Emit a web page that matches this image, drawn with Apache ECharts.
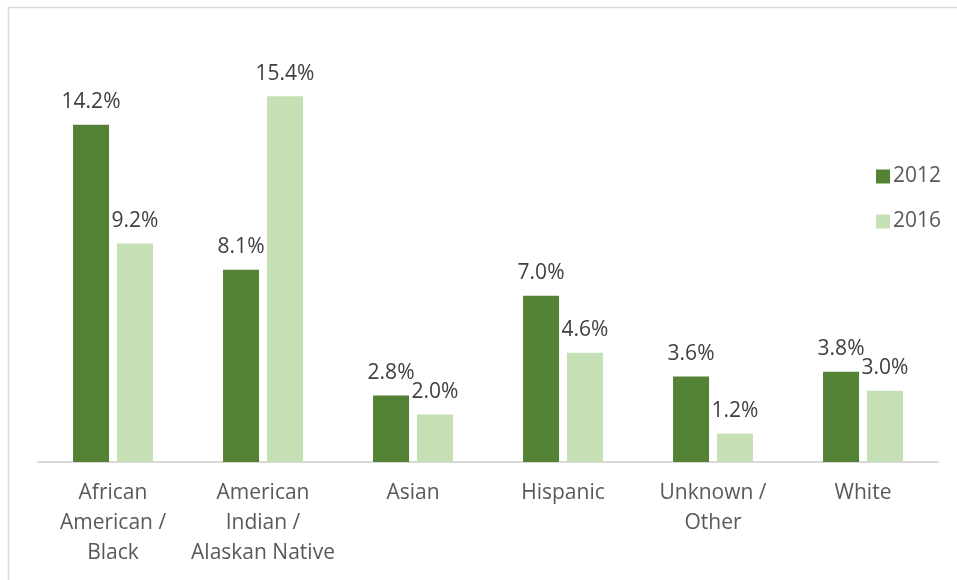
<!DOCTYPE html>
<html>
<head>
<meta charset="utf-8">
<style>
  html, body { margin: 0; padding: 0; background: #ffffff; }
  #chart { width: 957px; height: 580px; }
</style>
<script src="https://cdn.jsdelivr.net/npm/echarts@6/dist/echarts.min.js"></script>
</head>
<body>
<div id="chart"></div>
<script>
// Groups along the x axis
const categories = [
  'African\nAmerican /\nBlack',
  'American\nIndian /\nAlaskan Native',
  'Asian',
  'Hispanic',
  'Unknown /\nOther',
  'White'
];
// Percentages per group, by year
const values2012 = [14.2, 8.1, 2.8, 7.0, 3.6, 3.8];
const values2016 = [9.2, 15.4, 2.0, 4.6, 1.2, 3.0];
const seriesNames = ['2012', '2016'];

const FONT = '"Open Sans", "Liberation Sans", sans-serif';

const chart = echarts.init(document.getElementById('chart'), null, { renderer: 'canvas' });

const labelStyle = {
  show: true,
  position: 'top',
  distance: 12,
  color: '#404040',
  fontFamily: FONT,
  fontSize: 21,
  formatter: p => p.value.toFixed(1) + '%'
};

chart.setOption({
  animation: false,
  backgroundColor: '#ffffff',
  graphic: [{
    type: 'rect',
    silent: true,
    shape: { x: 8.5, y: 7.5, width: 1200, height: 1200 },
    style: { fill: 'none', stroke: '#d9d9d9', lineWidth: 1.5 }
  }],
  legend: {
    orient: 'vertical',
    left: 871,
    top: 161,
    itemWidth: 14,
    itemHeight: 14,
    itemGap: 24,
    icon: 'rect',
    textStyle: { color: '#595959', fontFamily: FONT, fontSize: 21, padding: [0, 0, 0, -2] },
    data: seriesNames
  },
  grid: { left: 38, width: 900, top: 82, height: 380 },
  xAxis: {
    type: 'category',
    data: categories,
    axisLine: { lineStyle: { color: '#d9d9d9', width: 2 } },
    axisTick: { show: false },
    axisLabel: {
      color: '#595959',
      fontFamily: FONT,
      fontSize: 21,
      lineHeight: 30,
      margin: 16,
      interval: 0
    }
  },
  yAxis: {
    type: 'value',
    min: 0,
    max: 16,
    show: false,
    splitLine: { show: false }
  },
  series: [
    {
      name: seriesNames[0],
      type: 'bar',
      data: values2012,
      barWidth: 36,
      barGap: '22%',
      itemStyle: { color: '#548235' },
      label: labelStyle
    },
    {
      name: seriesNames[1],
      type: 'bar',
      data: values2016,
      barWidth: 36,
      itemStyle: { color: '#c5e0b4' },
      label: labelStyle
    }
  ]
});
</script>
</body>
</html>
